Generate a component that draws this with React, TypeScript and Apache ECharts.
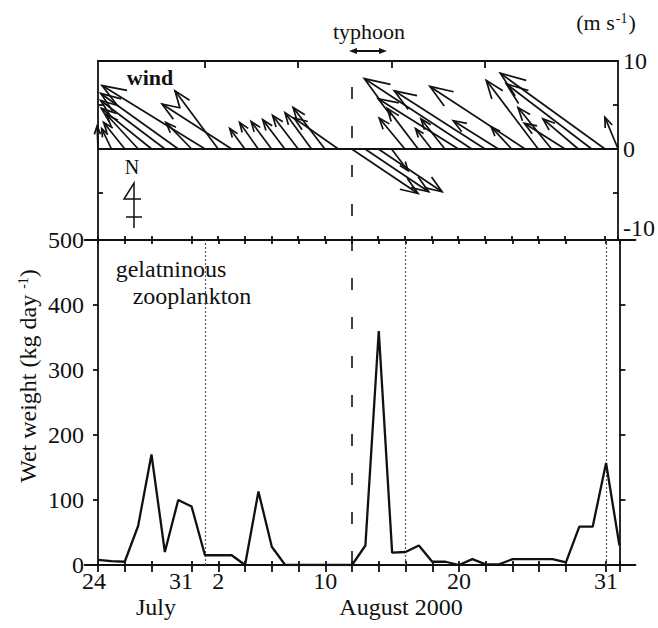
import React, { useEffect, useRef } from "react";
import * as echarts from "echarts";

// ---------- data ----------
// day index: 0 = 24 July 2000
const dayNumbers = [0, 1, 2, 3, 4, 5, 6, 7, 8, 9, 10, 11, 12, 13, 14, 15, 16, 17, 18, 19, 20, 21, 22, 23, 24, 25, 26, 27, 28, 29, 30, 31, 32, 33, 34, 35, 36, 37, 38, 39];
// gelatinous zooplankton wet weight (kg day-1)
const wetWeight = [8, 6, 5, 60, 170, 20, 100, 90, 15, 15, 15, 0, 113, 28, 0, 0, 0, 0, 0, 0, 30, 360, 19, 20, 30, 5, 5, 0, 9, 1, 1, 9, 9, 9, 9, 4, 59, 59, 157, 30];

// wind vectors (m s-1): east (u) and north (v) components
const windDays = [0, 1, 2, 3, 4, 5, 6, 7, 8, 9, 10, 11, 12, 13, 14, 15, 16, 17, 18, 19, 20, 21, 22, 23, 24, 25, 26, 27, 28, 29, 30, 31, 32, 33, 34, 35, 36, 37, 38, 39];
const windU = [-0.1, -1.1, -2.4, -3.6, -5.7, -7.3, -8.8, -2.9, -11.7, -4.9, -7.9, -1.7, -2.1, -2.3, -2.5, -2.9, -3.0, -3.6, -5.0, 7.6, 7.3, 7.3, 1.9, -2.9, -3.5, -1.8, -2.7, -9.1, -12.2, -10.3, -5.1, -2.3, -10.8, -5.9, -3.8, -4.6, -4.0, -9.7, -11.9, -1.5];
const windV = [2.6, 2.3, 3.0, 3.9, 4.6, 5.5, 6.3, 3.0, 7.2, 6.6, 5.1, 2.3, 3.0, 3.1, 3.3, 3.8, 4.1, 4.7, 3.5, -5.1, -4.9, -4.9, -2.5, 3.5, 4.6, 2.3, 3.4, 5.7, 8.0, 6.6, 3.2, 2.5, 7.1, 7.8, 4.7, 2.9, 3.4, 7.4, 8.6, 3.6];

const xTickDays = [0, 2, 4, 7, 9, 11, 13, 15, 17, 19, 21, 23, 25, 27, 29, 31, 33, 35, 38, 39];
const xLabelDays = [0, 7, 9, 17, 27, 38];
const xLabelTexts = ["24", "31", "2", "10", "20", "31"];
const topTickDays = [8, 15, 22, 29];
const windTickValues = [5, -5];
const windLabelValues = [10, 0, -10];
const typhoonDay = 19;
const samplingDays = [8, 23, 38];

// ---------- style ----------
const FONT = "'Liberation Serif', 'DejaVu Serif', serif";
const INK = "#111111";
const PPD = 13.37; // px per day
const X0 = 98;

const labelText = (v: number) => {
  const i = xLabelDays.indexOf(v);
  if (i < 0) return "";
  if (v === 7) return "{s|" + xLabelTexts[i] + "}";
  if (v === 0) return "{f|" + xLabelTexts[i] + "}";
  return xLabelTexts[i];
};

const axisLineStyle = { color: INK, width: 1.8 };

function renderWind(params: any, api: any) {
  const t = api.value(0);
  const u = api.value(1);
  const v = api.value(2);
  const tail = api.coord([t, 0]);
  const k = api.size([0, 1])[1];
  const tipY = api.coord([t, v])[1];
  const tipX = tail[0] + u * k;
  const dx = tipX - tail[0];
  const dy = tipY - tail[1];
  const len = Math.hypot(dx, dy) || 1;
  const bx = -dx / len;
  const by = -dy / len;
  const h = 5 + 0.17 * len;
  const a = 0.36;
  const ca = Math.cos(a);
  const sa = Math.sin(a);
  const b1 = [tipX + h * (bx * ca - by * sa), tipY + h * (bx * sa + by * ca)];
  const b2 = [tipX + h * (bx * ca + by * sa), tipY + h * (-bx * sa + by * ca)];
  const st = { stroke: INK, lineWidth: 1.7, fill: null };
  return {
    type: "group",
    children: [
      { type: "line", shape: { x1: tail[0], y1: tail[1], x2: tipX, y2: tipY }, style: st },
      { type: "polyline", shape: { points: [b1, [tipX, tipY], b2] }, style: st },
    ],
  };
}

const txt = (text: string, x: number, y: number, size: number, extra: any = {}) => ({
  type: "text",
  x,
  y,
  silent: true,
  style: {
    text,
    fill: INK,
    fontSize: size,
    fontFamily: FONT,
    align: "center",
    verticalAlign: "middle",
    ...extra,
  },
});

function buildOption() {
  const windData = windDays.map((d, i) => [d, windU[i], windV[i]]);
  const weightData = dayNumbers.map((d, i) => [d, wetWeight[i]]);
  const bottomMin = -1;
  const bottomMax = 40.2;

  const baseX = {
    type: "value",
    splitLine: { show: false },
    axisLabel: { show: false },
  };

  return {
    animation: false,
    backgroundColor: "#ffffff",
    textStyle: { fontFamily: FONT },
    grid: [
      { left: X0, top: 61, width: 39 * PPD, height: 179 },
      { left: X0 + bottomMin * PPD, top: 240, width: (bottomMax - bottomMin) * PPD, height: 325 },
    ],
    xAxis: [
      {
        ...baseX,
        gridIndex: 0,
        min: 0,
        max: 39,
        position: "top",
        axisLine: { show: true, onZero: false, lineStyle: axisLineStyle },
        axisTick: { show: true, inside: true, length: 7, customValues: topTickDays, lineStyle: axisLineStyle },
      },
      {
        ...baseX,
        gridIndex: 0,
        min: 0,
        max: 39,
        position: "bottom",
        axisLine: { show: false, onZero: false },
        axisTick: { show: true, inside: true, length: 4, customValues: xTickDays, lineStyle: axisLineStyle },
      },
      {
        type: "value",
        gridIndex: 1,
        min: bottomMin,
        max: bottomMax,
        position: "bottom",
        splitLine: { show: false },
        axisLine: { show: true, onZero: false, lineStyle: axisLineStyle },
        axisTick: { show: true, inside: false, length: 7, customValues: xTickDays, lineStyle: axisLineStyle },
        axisLabel: {
          show: true,
          customValues: xLabelDays,
          formatter: labelText,
          margin: 4,
          color: INK,
          fontSize: 24,
          fontFamily: FONT,
          rich: {
            s: { fontSize: 24, fontFamily: FONT, color: INK, padding: [0, 21, 0, 0] },
            f: { fontSize: 24, fontFamily: FONT, color: INK, padding: [0, 8, 0, 0] },
          },
        },
      },
      {
        ...baseX,
        gridIndex: 1,
        min: bottomMin,
        max: bottomMax,
        position: "bottom",
        axisLine: { show: false, onZero: false },
        axisTick: { show: true, inside: true, length: 4, customValues: xTickDays, lineStyle: axisLineStyle },
      },
      {
        ...baseX,
        gridIndex: 1,
        min: bottomMin,
        max: bottomMax,
        position: "top",
        axisLine: { show: true, onZero: false, lineStyle: axisLineStyle },
        axisTick: { show: true, inside: true, length: 4, customValues: xTickDays, lineStyle: axisLineStyle },
      },
    ],
    yAxis: [
      {
        type: "value",
        gridIndex: 0,
        min: -10.4,
        max: 10,
        position: "left",
        splitLine: { show: false },
        axisLine: { show: true, onZero: false, lineStyle: axisLineStyle },
        axisTick: { show: true, inside: true, length: 5, customValues: windTickValues, lineStyle: axisLineStyle },
        axisLabel: { show: false },
      },
      {
        type: "value",
        gridIndex: 0,
        min: -10.4,
        max: 10,
        position: "right",
        splitLine: { show: false },
        axisLine: { show: true, onZero: false, lineStyle: axisLineStyle },
        axisTick: { show: true, inside: true, length: 5, customValues: windTickValues, lineStyle: axisLineStyle },
        axisLabel: {
          show: true,
          customValues: windLabelValues,
          margin: 5,
          color: INK,
          fontSize: 24,
          fontFamily: FONT,
          formatter: (v: number) => (v === -10 ? "{n|-10}" : String(v)),
          rich: { n: { fontSize: 24, fontFamily: FONT, color: INK, padding: [0, 0, 16, 0] } },
        },
      },
      {
        type: "value",
        gridIndex: 1,
        min: 0,
        max: 500,
        interval: 100,
        position: "left",
        offset: bottomMin * PPD,
        splitLine: { show: false },
        axisLine: { show: true, onZero: false, lineStyle: axisLineStyle },
        axisTick: { show: true, inside: false, length: 5, lineStyle: axisLineStyle },
        axisLabel: { show: true, margin: 14, color: INK, fontSize: 24, fontFamily: FONT },
      },
      {
        type: "value",
        gridIndex: 1,
        min: 0,
        max: 500,
        interval: 100,
        position: "right",
        offset: -(bottomMax - 39) * PPD,
        splitLine: { show: false },
        axisLine: { show: true, onZero: false, lineStyle: axisLineStyle },
        axisTick: { show: true, inside: false, length: 6, lineStyle: axisLineStyle },
        axisLabel: { show: false },
      },
    ],
    series: [
      {
        type: "custom",
        name: "wind",
        xAxisIndex: 0,
        yAxisIndex: 0,
        data: windData,
        renderItem: renderWind,
        silent: true,
        markLine: {
          silent: true,
          symbol: ["none", "none"],
          label: { show: false },
          data: [
            { yAxis: 0, lineStyle: { type: "solid", width: 1.8, color: INK } },
            { xAxis: typhoonDay, lineStyle: { type: [12, 27], dashOffset: 15, width: 1.6, color: INK } },
          ],
        },
      },
      {
        type: "line",
        name: "gelatinous zooplankton",
        xAxisIndex: 2,
        yAxisIndex: 2,
        data: weightData,
        symbol: "none",
        silent: true,
        lineStyle: { color: INK, width: 2.3 },
        z: 5,
        markLine: {
          silent: true,
          symbol: ["none", "none"],
          label: { show: false },
          data: [
            { xAxis: typhoonDay, lineStyle: { type: [12, 27], dashOffset: 37, width: 1.6, color: INK } },
            ...samplingDays.map((d) => ({ xAxis: d, lineStyle: { type: [2, 2], width: 1.2, color: "#555" } })),
          ],
        },
      },
    ],
    graphic: [
      txt("typhoon", 369, 31, 22),
      {
        type: "line",
        silent: true,
        shape: { x1: 352, y1: 51, x2: 384, y2: 51 },
        style: { stroke: INK, lineWidth: 2 },
      },
      { type: "polygon", silent: true, shape: { points: [[349, 51], [357, 48], [357, 54]] }, style: { fill: INK } },
      { type: "polygon", silent: true, shape: { points: [[387, 51], [379, 48], [379, 54]] }, style: { fill: INK } },
      txt("(m s{sup|-1})", 606, 22, 22, {
        rich: { sup: { fontSize: 14, fontFamily: FONT, fill: INK, verticalAlign: "top", padding: [0, 1, 0, 1] } },
      }),
      txt("wind", 150, 77, 22, { fontWeight: "bold" }),
      txt("N", 132, 167, 20),
      {
        type: "polyline",
        silent: true,
        shape: { points: [[134, 228], [134, 183], [124, 199], [141, 199]] },
        style: { stroke: INK, lineWidth: 1.5, fill: null },
      },
      {
        type: "line",
        silent: true,
        shape: { x1: 126, y1: 217, x2: 142, y2: 217 },
        style: { stroke: INK, lineWidth: 1.5 },
      },
      txt("gelatninous", 171, 269, 24),
      txt("zooplankton", 192, 296, 24),
      txt("July", 156, 607, 24),
      txt("August 2000", 401, 607, 24),
      {
        type: "text",
        x: 28,
        y: 376,
        rotation: Math.PI / 2,
        silent: true,
        style: {
          text: "Wet weight (kg day {sup|-1})",
          fill: INK,
          fontSize: 24,
          fontFamily: FONT,
          align: "center",
          verticalAlign: "middle",
          rich: { sup: { fontSize: 14, fontFamily: FONT, fill: INK, verticalAlign: "top" } },
        },
      },
    ],
  };
}

export default function App() {
  const ref = useRef<HTMLDivElement>(null);
  useEffect(() => {
    if (!ref.current) return;
    const chart = echarts.init(ref.current, null, { renderer: "svg" });
    chart.setOption(buildOption() as any);
    return () => chart.dispose();
  }, []);
  return (
    <div
      ref={ref}
      style={{ position: "absolute", left: 0, top: 0, width: 658, height: 628, background: "#fff" }}
    />
  );
}
